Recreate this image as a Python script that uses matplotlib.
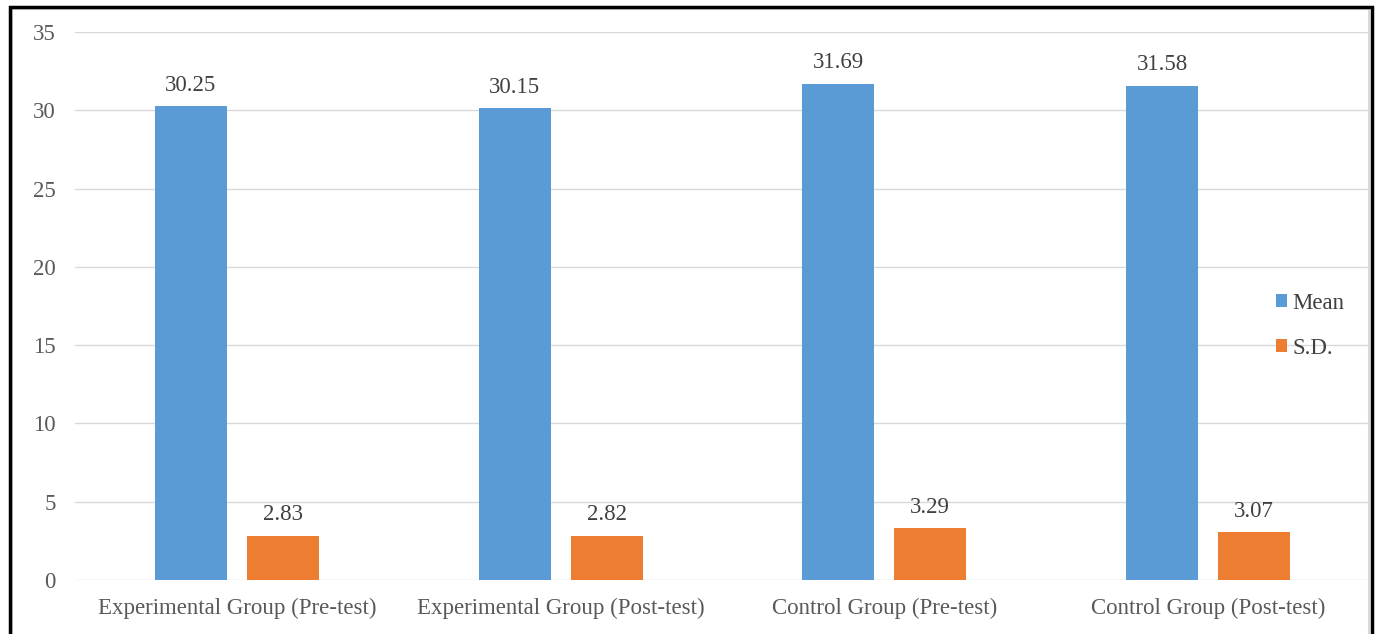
import numpy as np
import matplotlib
matplotlib.use("Agg")
import matplotlib.pyplot as plt
from matplotlib.patches import Rectangle

groups = ["Experimental Group (Pre-test)", "Experimental Group (Post-test)",
          "Control Group (Pre-test)", "Control Group (Post-test)"]
mean = [30.25, 30.15, 31.69, 31.58]
sd = [2.83, 2.82, 3.29, 3.07]
yticks = [0, 5, 10, 15, 20, 25, 30, 35]

plt.rcParams['font.family'] = ['Liberation Serif', 'DejaVu Serif']

W, H = 1377, 634
fig = plt.figure(figsize=(W / 100, H / 100), dpi=100)
ax = fig.add_axes([75 / W, 1 - 580 / H, (1370 - 75) / W, (580 - 32) / H])

fs = 16.5
x = np.arange(len(groups))
bw = 0.222
off = 0.142
b1 = ax.bar(x - off, mean, bw, color="#5b9bd5", label="Mean", zorder=3)
b2 = ax.bar(x + off, sd, bw, color="#ed7d31", label="S.D.", zorder=3)

for bars, vals in ((b1, mean), (b2, sd)):
    for r, v in zip(bars, vals):
        ax.annotate(f"{v:.2f}", (r.get_x() + r.get_width() / 2, v),
                    xytext=(0, 7.5), textcoords="offset points",
                    ha="center", va="bottom", fontsize=fs, color="#404040")

ax.set_xlim(-0.5, 3.5)
ax.set_ylim(0, 35)
ax.set_yticks(yticks)
ax.set_xticks(x)
ax.set_xticklabels(groups)
ax.tick_params(axis="both", length=0, labelsize=fs, labelcolor="#595959")
ax.tick_params(axis="y", pad=14)
ax.tick_params(axis="x", pad=13)
ax.grid(axis="y", color="#d9d9d9", linewidth=1, zorder=0)
for s in ax.spines.values():
    s.set_visible(False)

ax.legend(loc="center left", bbox_to_anchor=((1276 - 75) / 1295, (580 - 326) / 548),
          frameon=False, borderpad=0, borderaxespad=0,
          fontsize=fs, handlelength=0.5, handleheight=0.5, handletextpad=0.2,
          labelspacing=1.05, labelcolor="#404040")

# chart frame
fig.patches.append(Rectangle((12 / W, -0.1), (1369 - 12) / W, 1.1 - 9 / H,
                             transform=fig.transFigure, fill=False,
                             edgecolor="#d9d9d9", linewidth=1.5))
fig.patches.append(Rectangle((10 / W, -0.1), (1372 - 10) / W, 1.1 - 7 / H,
                             transform=fig.transFigure, fill=False,
                             edgecolor="black", linewidth=2.5))

fig.savefig("out.png", dpi=100)
